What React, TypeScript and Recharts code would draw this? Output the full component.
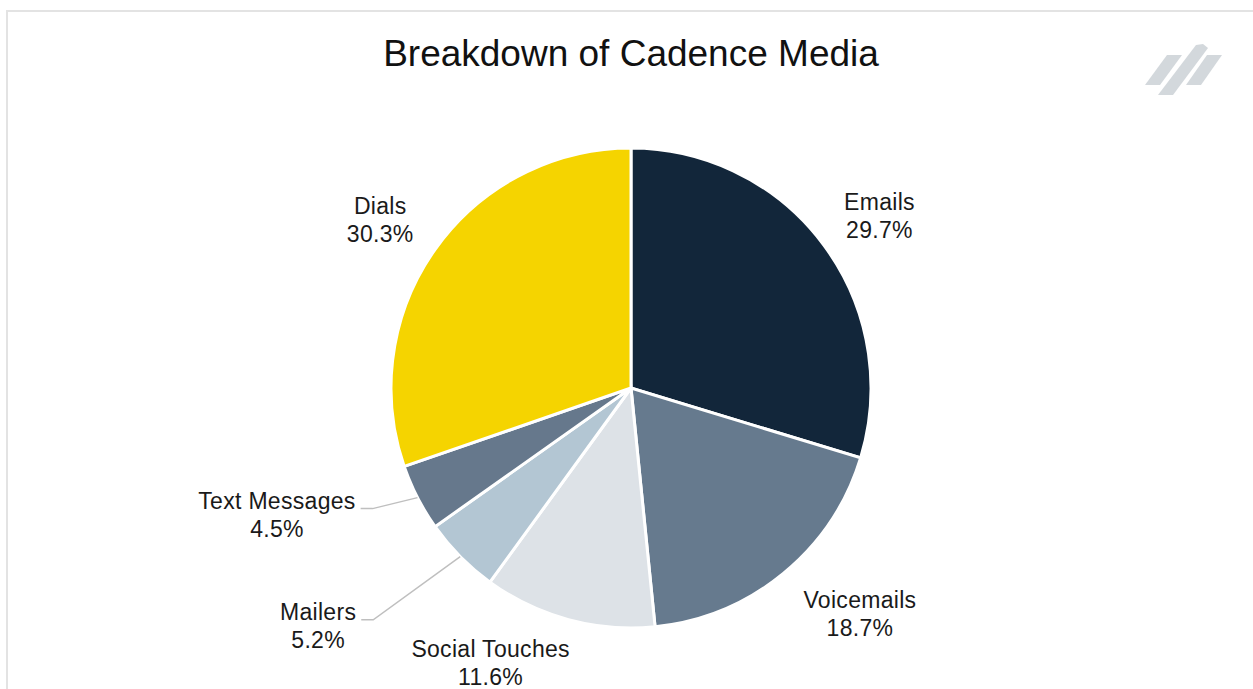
import { PieChart, Pie, Cell } from 'recharts';

const categories = ['Emails', 'Voicemails', 'Social Touches', 'Mailers', 'Text Messages', 'Dials'];
const shares = [29.7, 18.7, 11.6, 5.2, 4.5, 30.3];
const colors = ['#12263a', '#667a8e', '#dde2e7', '#b3c6d3', '#66788c', '#f5d400'];

// label placement tweaks: angle shift (deg, ccw) and radial offset beyond the rim
const labelNudge = [
  { da: -1.9, dr: 62, leader: false },
  { da: 5.9, dr: 82, leader: false },
  { da: -11.9, dr: 69, leader: false },
  { da: -7.4, dr: 153, leader: true },
  { da: -7.5, dr: 136, leader: true },
  { da: 1.6, dr: 62, leader: false },
];

const data = categories.map((name, i) => ({ name, value: shares[i] }));

const FONT = '"Liberation Sans", Arial, sans-serif';
const LABEL_SIZE = 23;
const SPACING = 0.3;
const RAD = Math.PI / 180;

let ctx: CanvasRenderingContext2D | null = null;
const textWidth = (s: string) => {
  if (!ctx) ctx = document.createElement('canvas').getContext('2d');
  if (!ctx) return s.length * 12;
  ctx.font = `${LABEL_SIZE}px ${FONT}`;
  return ctx.measureText(s).width + s.length * SPACING;
};

const renderLabel = (props: any) => {
  const { cx, cy, midAngle, outerRadius, name, value, index } = props;
  const n = labelNudge[index];
  const ang = midAngle + n.da;
  const r = outerRadius + n.dr;
  const x = cx + r * Math.cos(-ang * RAD);
  const y = cy + r * Math.sin(-ang * RAD);
  let leader = null;
  if (n.leader) {
    const sx = cx + outerRadius * Math.cos(-midAngle * RAD);
    const sy = cy + outerRadius * Math.sin(-midAngle * RAD);
    const w = Math.max(textWidth(name), textWidth(`${value.toFixed(1)}%`));
    const ex = x + w / 2 + 5;
    const ey = y - 6;
    leader = (
      <polyline
        points={`${sx},${sy} ${ex + 12},${ey} ${ex},${ey}`}
        fill="none"
        stroke="#bfbfbf"
        strokeWidth={1.5}
      />
    );
  }
  const txt = {
    x,
    textAnchor: 'middle' as const,
    dominantBaseline: 'central' as const,
    fill: '#1a1a1a',
    fontSize: LABEL_SIZE,
    fontFamily: FONT,
    letterSpacing: SPACING,
  };
  return (
    <g key={`lbl-${index}`}>
      {leader}
      <text {...txt} y={y - 14}>
        {name}
      </text>
      <text {...txt} y={y + 14}>
        {`${value.toFixed(1)}%`}
      </text>
    </g>
  );
};

export default function App() {
  return (
    <div style={{ position: 'absolute', left: 0, top: 0, width: 1253, height: 689, overflow: 'hidden', background: '#fff' }}>
      <div
        style={{
          position: 'absolute',
          left: 6,
          top: 10,
          width: 1400,
          height: 900,
          border: '2px solid #e3e3e3',
          boxSizing: 'border-box',
        }}
      />
      <div
        style={{
          position: 'absolute',
          left: 0,
          top: 33,
          width: 1262,
          textAlign: 'center',
          fontFamily: FONT,
          fontSize: 37,
          color: '#111',
          lineHeight: '42px',
        }}
      >
        Breakdown of Cadence Media
      </div>
      <svg style={{ position: 'absolute', left: 0, top: 0 }} width={1253} height={120}>
        <polygon points="1145,85 1160,85 1182,55 1167,55" fill="#d3d8dc" />
        <polygon points="1158,95 1173,95 1208,48 1203,44 1196,45" fill="#d3d8dc" />
        <polygon points="1186,85 1201,85 1222,55 1207,55" fill="#d3d8dc" />
      </svg>
      <div style={{ position: 'absolute', left: 0, top: 0 }}>
        <PieChart width={1253} height={689} margin={{ top: 0, right: 0, bottom: 0, left: 0 }}>
          <Pie
            data={data}
            dataKey="value"
            nameKey="name"
            cx={631}
            cy={388}
            outerRadius={240}
            startAngle={90}
            endAngle={-270}
            stroke="#ffffff"
            strokeWidth={3}
            label={renderLabel}
            labelLine={false}
            isAnimationActive={false}
          >
            {data.map((d, i) => (
              <Cell key={d.name} fill={colors[i]} />
            ))}
          </Pie>
        </PieChart>
      </div>
    </div>
  );
}
